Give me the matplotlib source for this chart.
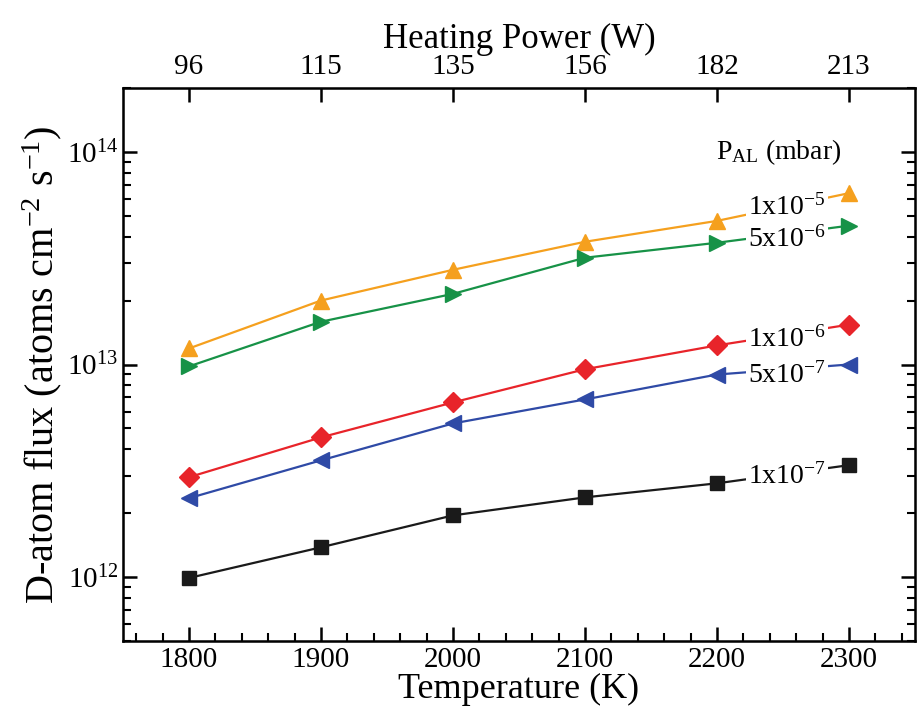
import matplotlib
matplotlib.use("Agg")
import matplotlib.pyplot as plt
from matplotlib.ticker import LogLocator, MultipleLocator, NullFormatter, FixedLocator

plt.rcParams['font.family'] = ['Liberation Serif', 'DejaVu Serif']
plt.rcParams['mathtext.fontset'] = 'custom'
plt.rcParams['mathtext.rm'] = 'Liberation Serif'
plt.rcParams['mathtext.it'] = 'Liberation Serif:italic'

temperature = [1800, 1900, 2000, 2100, 2200, 2300]
heating_power = ['96', '115', '135', '156', '182', '213']

flux_1e5 = [1.19e13, 2.0e13, 2.79e13, 3.78e13, 4.74e13, 6.4e13]
flux_5e6 = [9.8e12, 1.59e13, 2.15e13, 3.18e13, 3.74e13, 4.5e13]
flux_1e6 = [2.95e12, 4.54e12, 6.63e12, 9.5e12, 1.23e13, 1.54e13]
flux_5e7 = [2.35e12, 3.54e12, 5.28e12, 6.85e12, 8.97e12, 1.0e13]
flux_1e7 = [9.9e11, 1.38e12, 1.95e12, 2.37e12, 2.76e12, 3.36e12]

labels = ['1x10$^{-5}$', '5x10$^{-6}$', '1x10$^{-6}$', '5x10$^{-7}$', '1x10$^{-7}$']
label_y = [5.5e13, 3.9e13, 1.32e13, 8.9e12, 2.98e12]

series = [
    (flux_1e5, '#F5A01E', '^'),
    (flux_5e6, '#179247', '>'),
    (flux_1e6, '#E8242A', 'D'),
    (flux_5e7, '#2F4AA6', '<'),
    (flux_1e7, '#1A1A1A', 's'),
]

fig = plt.figure(figsize=(9.17, 7.08), dpi=100)
ax = fig.add_axes([123/917, 1 - 641/708, (915-123)/917, (641-88)/708])

for (vals, col, mk), lab, ly in zip(series, labels, label_y):
    ms = 10 if mk in ('D', 's') else 12
    ax.plot(temperature, vals, color=col, lw=1.6, marker=mk, ms=ms, zorder=2)
    ax.text(2253, ly, lab, fontsize=20, ha='center', va='center', zorder=3,
            bbox=dict(facecolor='white', edgecolor='none', pad=1.5))

ax.text(2247, 1.0e14, 'P$_{\\mathrm{AL}}$ (mbar)', fontsize=20, ha='center', va='center')

ax.set_yscale('log')
ax.set_xlim(1750, 2350)
ax.set_ylim(5e11, 2e14)
ax.xaxis.set_major_locator(MultipleLocator(100))
ax.xaxis.set_minor_locator(MultipleLocator(20))
ax.yaxis.set_major_locator(LogLocator(base=10, numticks=10))
ax.yaxis.set_minor_locator(LogLocator(base=10, subs=range(2, 10), numticks=20))
ax.yaxis.set_minor_formatter(NullFormatter())

ax.tick_params(axis='both', which='major', direction='in', length=10, width=1.8,
               labelsize=21, right=True)
ax.tick_params(axis='both', which='minor', direction='in', length=6, width=1.5, right=True)
ax.tick_params(axis='x', which='major', pad=4)
for s in ax.spines.values():
    s.set_linewidth(1.8)

ax.set_xlabel('Temperature (K)', fontsize=26, labelpad=0)
ax.set_ylabel('D-atom flux (atoms cm$^{-2}$ s$^{-1}$)', fontsize=29, labelpad=2)

top = ax.twiny()
top.set_xlim(ax.get_xlim())
top.xaxis.set_major_locator(FixedLocator(temperature))
top.set_xticklabels(heating_power)
top.xaxis.set_minor_locator(FixedLocator([]))
top.tick_params(axis='x', which='major', direction='in', length=10, width=1.8,
                labelsize=21, pad=6)
top.set_xlabel('Heating Power (W)', fontsize=25, labelpad=4)

fig.savefig('out.png', dpi=100)
